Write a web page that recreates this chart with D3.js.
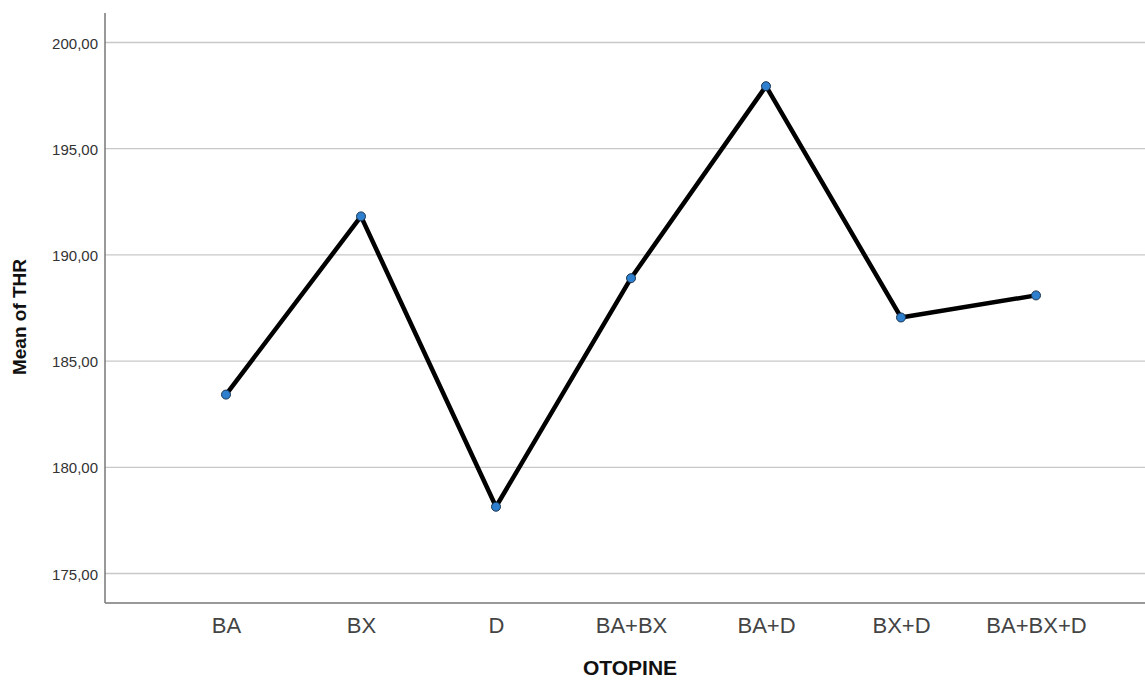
<!DOCTYPE html>
<html>
<head>
<meta charset="utf-8">
<script src="https://cdn.jsdelivr.net/npm/d3@7"></script>
<style>
  body { margin: 0; background: #fff; }
  svg { display: block; font-family: Arial, "Liberation Sans", sans-serif; }
</style>
</head>
<body>
<svg id="chart"></svg>
<script>
const width = 1145, height = 680;

// data
const categories = ["BA", "BX", "D", "BA+BX", "BA+D", "BX+D", "BA+BX+D"];
const meanTHR = [183.40, 191.79, 178.12, 188.88, 197.92, 187.03, 188.07];
const yTicks = [175, 180, 185, 190, 195, 200];

const plotLeft = 105, plotTop = 13, plotRight = 1145, plotBottom = 603;

let svg = d3.select("#chart")
    .attr("width", width)
    .attr("height", height)
    .attr("viewBox", [0, 0, width, height]);

let x = d3.scalePoint()
    .domain(categories)
    .range([226, 1036]);

let y = d3.scaleLinear()
    .domain([175, 200])
    .range([573, 42]);

// gridlines
let grid = svg.append("g")
    .attr("transform", `translate(${plotLeft},0)`)
    .call(d3.axisLeft(y).tickValues(yTicks).tickSize(-(plotRight - plotLeft)).tickFormat(""));
grid.select(".domain").remove();
grid.selectAll("line")
    .style("stroke", "#c8c8c8")
    .style("stroke-width", 1.3);

// y axis
let yAxis = svg.append("g")
    .attr("transform", `translate(${plotLeft},0)`)
    .call(d3.axisLeft(y).tickValues(yTicks).tickSize(0).tickPadding(7)
        .tickFormat(d => d3.format(".2f")(d).replace(".", ",")));
yAxis.select(".domain").remove();
yAxis.selectAll("text")
    .attr("dy", "0.4em")
    .style("font-size", "15px")
    .style("fill", "#333");

// x axis
let xAxis = svg.append("g")
    .attr("transform", `translate(0,${plotBottom})`)
    .call(d3.axisBottom(x).tickSize(0).tickPadding(14));
xAxis.select(".domain").remove();
xAxis.selectAll("text")
    .style("font-size", "22px")
    .style("fill", "#444");

// axis frame lines
svg.append("line")
    .attr("x1", plotLeft).attr("x2", plotLeft)
    .attr("y1", plotTop).attr("y2", plotBottom)
    .style("stroke", "#777").style("stroke-width", 1.5);
svg.append("line")
    .attr("x1", plotLeft).attr("x2", plotRight)
    .attr("y1", plotBottom).attr("y2", plotBottom)
    .style("stroke", "#777").style("stroke-width", 1.5);

// the line
let line = d3.line()
    .x((d, i) => x(categories[i]))
    .y(d => y(d));

svg.append("path")
    .datum(meanTHR)
    .attr("d", line)
    .style("fill", "none")
    .style("stroke", "#000")
    .style("stroke-width", 4.5)
    .style("stroke-linejoin", "round");

svg.selectAll("circle.pt")
    .data(meanTHR)
    .enter()
    .append("circle")
    .attr("class", "pt")
    .attr("cx", (d, i) => x(categories[i]))
    .attr("cy", d => y(d))
    .attr("r", 4.5)
    .style("fill", "#2e7fce")
    .style("stroke", "#1a3550")
    .style("stroke-width", 1);

// axis titles
svg.append("text")
    .attr("x", 630).attr("y", 675)
    .style("text-anchor", "middle")
    .style("font-size", "21px")
    .style("font-weight", "bold")
    .style("fill", "#111")
    .text("OTOPINE");

svg.append("text")
    .attr("transform", `translate(26,317) rotate(-90)`)
    .style("text-anchor", "middle")
    .style("font-size", "19px")
    .style("font-weight", "bold")
    .style("fill", "#111")
    .text("Mean of THR");
</script>
</body>
</html>
